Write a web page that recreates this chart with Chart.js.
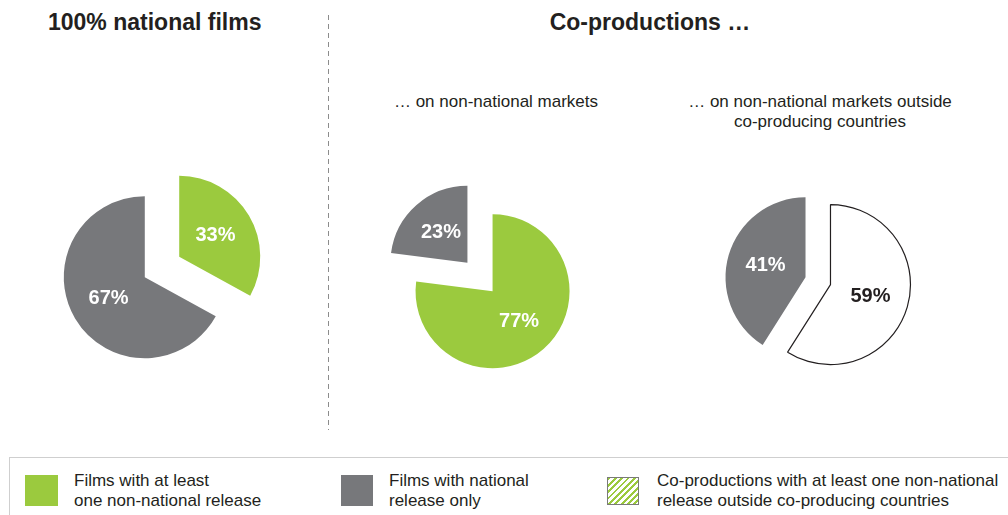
<!DOCTYPE html>
<html lang="en">
<head>
<meta charset="UTF-8">
<title>National films and co-productions</title>
<script src="https://cdn.jsdelivr.net/npm/chart.js"></script>
<style>
  body { margin: 0; width: 1008px; height: 515px; position: relative; overflow: hidden; background: #fff;
         font-family: Arial, "Liberation Sans", sans-serif; color: #231f20; }
  .abs { position: absolute; }
  .title { font-size: 23px; font-weight: bold; line-height: 1; white-space: nowrap; }
  .sub { font-size: 17px; line-height: 20px; text-align: center; white-space: nowrap; }
  .divider { left: 328px; top: 15px; width: 1px; height: 415px;
             background: repeating-linear-gradient(to bottom, #8c8c8c 0 5px, transparent 5px 9px); }
  .legend { left: 9px; top: 457px; width: 1010px; height: 70px; border-top: 1px solid #cfcfcf; border-left: 1px solid #cfcfcf; }
  .sw { position: absolute; }
  .lt { position: absolute; font-size: 17px; line-height: 20px; white-space: nowrap; }
  canvas { position: absolute; }
</style>
</head>
<body>
  <div class="abs title" style="left:48px; top:11px;">100% national films</div>
  <div class="abs title" style="left:450px; top:11px; width:400px; text-align:center;">Co-productions …</div>
  <div class="abs divider"></div>
  <div class="abs sub" style="left:346px; top:92px; width:300px;">… on non-national markets</div>
  <div class="abs sub" style="left:660px; top:92px; width:320px;">… on non-national markets outside<br>co-producing countries</div>

  <canvas id="pie1" width="260" height="260" style="left:32px; top:137px;"></canvas>
  <canvas id="pie2" width="260" height="260" style="left:350px; top:147px;"></canvas>
  <canvas id="pie3" width="260" height="260" style="left:688px; top:151px;"></canvas>

  <div class="abs legend"></div>
  <div class="sw" style="left:25px; top:475px; width:33px; height:31px; background:#9bca3e;"></div>
  <div class="lt" id="leg1" style="left:74px; top:471px;"></div>
  <div class="sw" style="left:341px; top:475px; width:32px; height:31px; background:#77787b;"></div>
  <div class="lt" id="leg2" style="left:389px; top:471px;"></div>
  <div class="sw" style="left:607px; top:477px; width:30px; height:26px; border:1.5px solid #7a7a7a;
       background: repeating-linear-gradient(135deg, #9bca3e 0 2px, #ffffff 2px 4.5px);"></div>
  <div class="lt" id="leg3" style="left:657px; top:471px;"></div>

<script>
  // categories
  const legendLabels = [
    ['Films with at least', 'one non-national release'],
    ['Films with national', 'release only'],
    ['Co-productions with at least one non-national', 'release outside co-producing countries']
  ];
  const nationalLabels = ['Films with at least one non-national release', 'Films with national release only'];
  const coprodLabels = ['Films with at least one non-national release', 'Films with national release only'];
  const outsideLabels = ['Co-productions with at least one non-national release outside co-producing countries', 'Films with national release only'];

  // values (%)
  const nationalValues = [33, 67];
  const coprodValues = [77, 23];
  const outsideValues = [59, 41];

  const GREEN = '#9bca3e';
  const GREY = '#77787b';
  const INK = '#231f20';

  legendLabels.forEach((lines, i) => {
    document.getElementById('leg' + (i + 1)).innerHTML = lines.join('<br>');
  });

  // draws each slice pushed out along its middle angle, plus its percentage label
  const explodePlugin = {
    id: 'explode',
    beforeDatasetDraw(chart, args) {
      const ctx = chart.ctx;
      const ds = chart.data.datasets[args.index];
      args.meta.data.forEach((arc, i) => {
        const mid = (arc.startAngle + arc.endAngle) / 2;
        const d = ds.explode || 0;
        ctx.save();
        ctx.translate(Math.cos(mid) * d, Math.sin(mid) * d);
        arc.draw(ctx, chart.chartArea);
        const r = arc.outerRadius * 0.52;
        ctx.fillStyle = ds.labelColors[i];
        ctx.font = 'bold 20px Arial, "Liberation Sans", sans-serif';
        ctx.textAlign = 'center';
        ctx.textBaseline = 'middle';
        ctx.fillText(ds.data[i] + '%', arc.x + Math.cos(mid) * r, arc.y + Math.sin(mid) * r);
        ctx.restore();
      });
      return false;
    }
  };

  function makePie(id, labels, values, colors, borders, labelColors, radius, explode) {
    new Chart(document.getElementById(id).getContext('2d'), {
      type: 'pie',
      data: {
        labels: labels,
        datasets: [{
          data: values,
          backgroundColor: colors,
          borderColor: borders.map(b => b ? INK : 'rgba(0,0,0,0)'),
          borderWidth: borders.map(b => b ? 1.2 : 0),
          labelColors: labelColors,
          explode: explode
        }]
      },
      options: {
        responsive: false,
        animation: false,
        radius: radius,
        layout: { padding: 0 },
        plugins: { legend: { display: false }, tooltip: { enabled: false } }
      },
      plugins: [explodePlugin]
    });
  }

  makePie('pie1', nationalLabels, nationalValues, [GREEN, GREY], [false, false], ['#fff', '#fff'], 81, 20);
  makePie('pie2', coprodLabels, coprodValues, [GREEN, GREY], [false, false], ['#fff', '#fff'], 77, 19);
  makePie('pie3', outsideLabels, outsideValues, ['#ffffff', GREY], [true, false], [INK, '#fff'], 80, 13);
</script>
</body>
</html>
